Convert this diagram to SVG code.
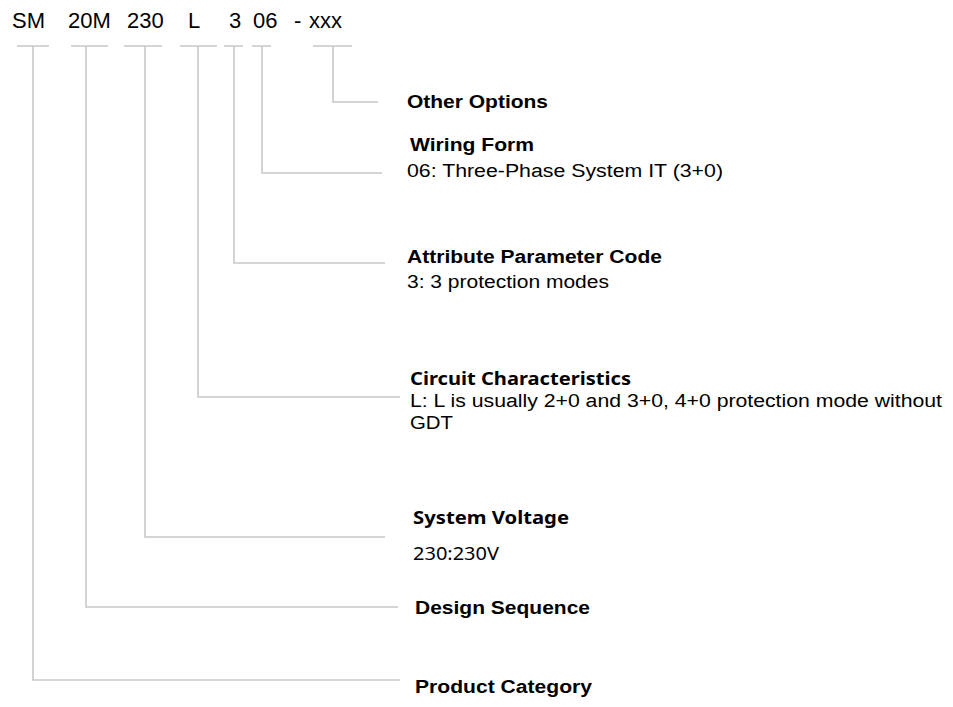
<svg xmlns="http://www.w3.org/2000/svg" width="953" height="707" viewBox="0 0 953 707">
<style>
.code{font-family:"Liberation Sans",Arial,sans-serif;font-size:22px;fill:#000}
.t{font-family:"Liberation Sans",Arial,sans-serif;font-size:18px;font-weight:bold;fill:#000}
.d{font-family:"Liberation Sans",Arial,sans-serif;font-size:18px;fill:#000}
.tn{font-family:"Noto Sans","Open Sans",sans-serif;font-size:18.5px;font-weight:bold;fill:#000}
.dn{font-family:"Noto Sans","Open Sans",sans-serif;font-size:18.5px;fill:#000}
.ln{fill:none;stroke:#c8c8c8;stroke-width:1.6}
</style>
<rect width="953" height="707" fill="#fff"/>
<g id="code">
<text class="code" x="12" y="28">SM</text>
<text class="code" x="68" y="28">20M</text>
<text class="code" x="127" y="28">230</text>
<text class="code" x="188" y="28">L</text>
<text class="code" x="229" y="28">3</text>
<text class="code" x="253" y="28">06</text>
<text class="code" x="294" y="28">-</text>
<text class="code" x="309" y="28">xxx</text>
</g>
<g id="connectors">
<path class="ln" d="M17 46H49M33 46V680H400"/>
<path class="ln" d="M71 46H108M86 46V607H398"/>
<path class="ln" d="M124 46H162M145 46V537H385"/>
<path class="ln" d="M180 46H217M198 46V397H400"/>
<path class="ln" d="M224 46H243M234 46V263H385"/>
<path class="ln" d="M252 46H271M262 46V173H382"/>
<path class="ln" d="M313 46H352M333 46V102H378"/>
</g>
<g id="other-options"><text class="t" x="407" y="107.5" textLength="141" lengthAdjust="spacingAndGlyphs">Other Options</text></g>
<g id="wiring-form"><text class="t" x="410" y="150.5" textLength="124" lengthAdjust="spacingAndGlyphs">Wiring Form</text><text class="d" x="407" y="176.5" textLength="316" lengthAdjust="spacingAndGlyphs">06: Three-Phase System IT (3+0)</text></g>
<g id="attribute"><text class="t" x="407" y="263" textLength="255" lengthAdjust="spacingAndGlyphs">Attribute Parameter Code</text><text class="d" x="407" y="287.5" textLength="202" lengthAdjust="spacingAndGlyphs">3: 3 protection modes</text></g>
<g id="circuit"><text class="tn" x="410" y="385" textLength="221" lengthAdjust="spacingAndGlyphs">Circuit Characteristics</text><text class="d" x="410" y="407" textLength="532" lengthAdjust="spacingAndGlyphs">L: L is usually 2+0 and 3+0, 4+0 protection mode without</text><text class="d" x="410" y="429" textLength="43" lengthAdjust="spacingAndGlyphs">GDT</text></g>
<g id="voltage"><text class="tn" x="413" y="524" textLength="156" lengthAdjust="spacingAndGlyphs">System Voltage</text><text class="dn" x="413" y="560" textLength="86" lengthAdjust="spacingAndGlyphs">230:230V</text></g>
<g id="design"><text class="t" x="415" y="613.5" textLength="175" lengthAdjust="spacingAndGlyphs">Design Sequence</text></g>
<g id="category"><text class="t" x="415" y="692.5" textLength="177" lengthAdjust="spacingAndGlyphs">Product Category</text></g>
</svg>
